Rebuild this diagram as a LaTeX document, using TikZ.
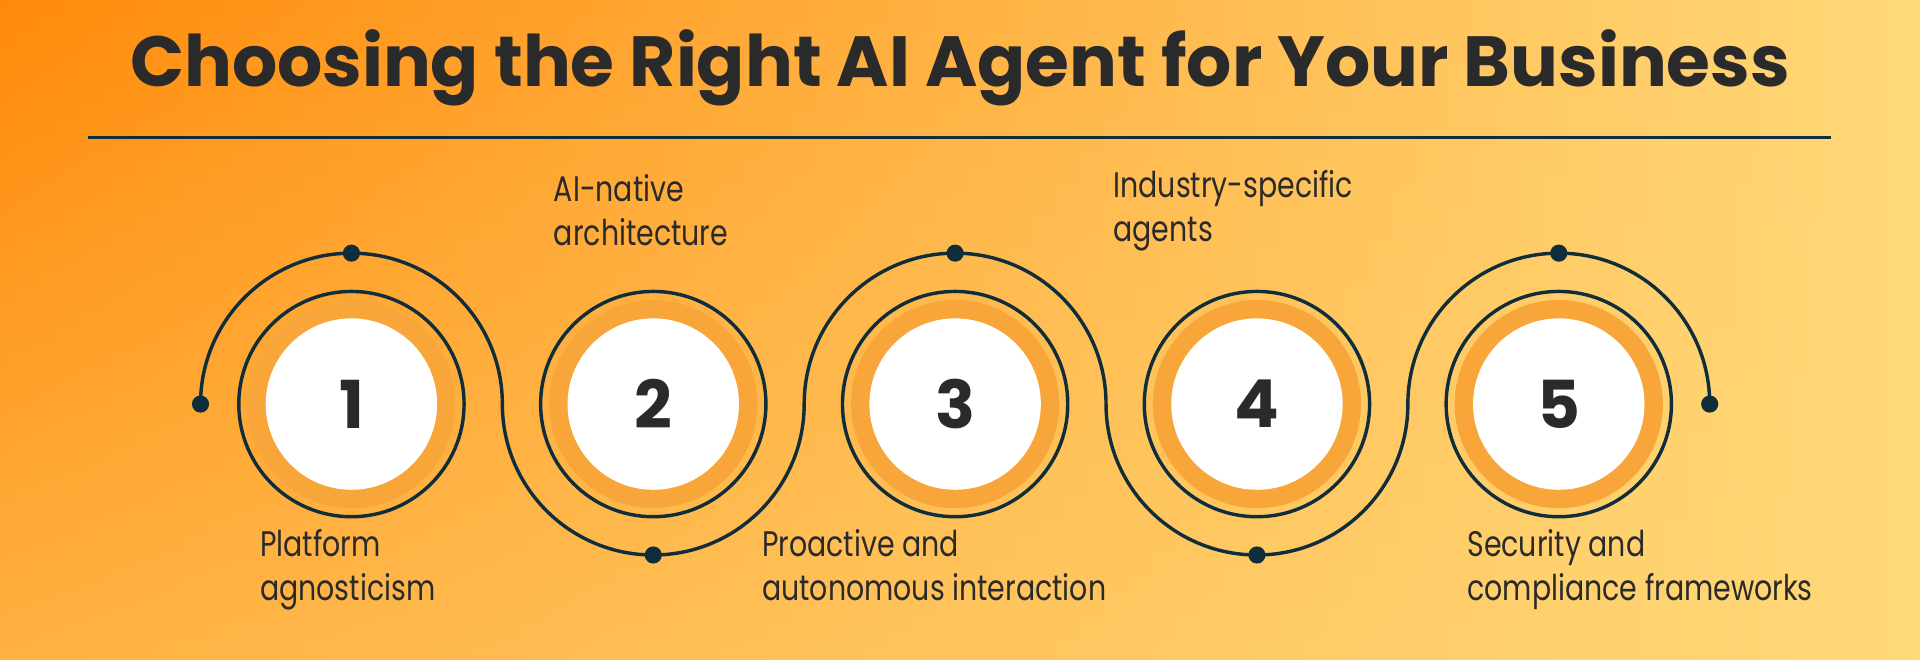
\documentclass[tikz,border=0pt]{standalone}
\usepackage{fontspec}
\usetikzlibrary{fadings}
\setmainfont{Poppins}
\newfontfamily\labfont[FakeStretch=0.8]{Poppins}
\definecolor{navy}{HTML}{0F2D3A}
\definecolor{ringor}{HTML}{F8A63A}
\definecolor{bgA}{HTML}{FF8A0A}
\definecolor{bgM}{HTML}{FFA838}
\definecolor{bgB}{HTML}{FFD97A}
\definecolor{txt}{HTML}{2A2A2A}
\tikzset{
  num/.style={font=\bfseries\fontsize{27}{30}\selectfont,text=txt},
  lab/.style={font=\labfont\fontsize{14.5}{18}\selectfont,text=txt,align=left,anchor=north west,inner sep=0pt},
  dotc/.style={circle,fill=navy,minimum size=7pt,inner sep=0pt},
  wire/.style={navy,line width=1.4pt}
}
\begin{document}
\begin{tikzpicture}[x=0.5pt,y=-0.5pt]
\useasboundingbox (0,0) rectangle (1568,539);
\shade[left color=bgA,middle color=bgM,right color=bgB] (0,0) rectangle (1568,539);
\fill[bgB,opacity=0.5,path fading=north] (0,0) rectangle (1568,539);
\node[font=\bfseries\fontsize{29}{32}\selectfont,text=txt] (title) at (784,55) {Choosing the Right AI Agent for Your Business};
\draw[navy,line width=1.3pt] (72,112) coordinate (l1) -- (1495,112) coordinate (l2);
\foreach \i/\x in {1/287,2/533.5,3/780,4/1026.5,5/1273}{
  \fill[ringor] (\x,330) circle (85);
  \fill[white] (\x,330) circle (70);
  \draw[wire] (\x,330) circle (92);
  \node[num] (n\i) at (\x,330) {\i};
}
\coordinate (s) at (163.75,330);
\draw[wire] (s) arc[start angle=180,end angle=360,radius=123.25]
  arc[start angle=180,end angle=0,radius=123.25]
  arc[start angle=180,end angle=360,radius=123.25]
  arc[start angle=180,end angle=0,radius=123.25]
  arc[start angle=180,end angle=360,radius=123.25] coordinate (e);
\node[dotc] (d0) at (s) {};
\node[dotc] (d6) at (e) {};
\node[dotc] (d1) at (287,206.75) {};
\node[dotc] (d2) at (533.5,453.25) {};
\node[dotc] (d3) at (780,206.75) {};
\node[dotc] (d4) at (1026.5,453.25) {};
\node[dotc] (d5) at (1273,206.75) {};
\node[lab] (t2) at (452,142) {AI-native\\architecture};
\node[lab] (t4) at (909,139) {Industry-specific\\agents};
\node[lab] (t1) at (212,432) {Platform\\agnosticism};
\node[lab] (t3) at (622,432) {Proactive and\\autonomous interaction};
\node[lab] (t5) at (1198,432) {Security and\\compliance frameworks};
\end{tikzpicture}
\end{document}
